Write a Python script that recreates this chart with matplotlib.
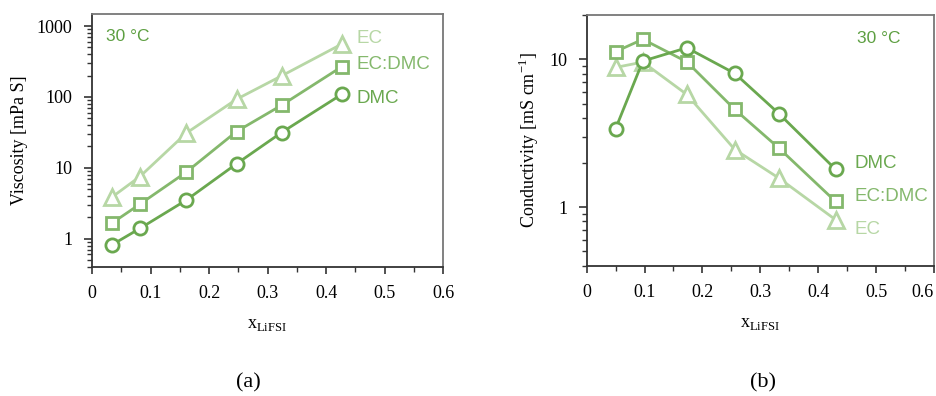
import numpy as np
import matplotlib.pyplot as plt
from matplotlib.ticker import FixedLocator, LogLocator, NullFormatter

# panel (a): viscosity vs x_LiFSI
x_visc = [0.034, 0.082, 0.161, 0.247, 0.324, 0.427]
visc_ec = [3.86, 7.55, 30.8, 92.7, 198, 557]
visc_ecdmc = [1.66, 3.08, 8.69, 32.5, 76.3, 267]
visc_dmc = [0.82, 1.40, 3.5, 11.4, 31.5, 109]

# panel (b): conductivity vs x_LiFSI
x_cond = [0.050, 0.097, 0.173, 0.256, 0.332, 0.430]
cond_ec = [8.83, 9.6, 5.79, 2.45, 1.57, 0.82]
cond_ecdmc = [11.3, 13.7, 9.64, 4.58, 2.51, 1.09]
cond_dmc = [3.40, 9.75, 12.0, 8.04, 4.30, 1.80]

x_ticks = [0, 0.1, 0.2, 0.3, 0.4, 0.5, 0.6]
x_tick_labels = ['0', '0.1', '0.2', '0.3', '0.4', '0.5', '0.6']

c_ec = '#b7d7a5'
c_ecdmc = '#84b86c'
c_dmc = '#6aa84f'
c_temp = '#5d9f41'

serif = 'Liberation Serif'
sans = 'Liberation Sans'

fig = plt.figure(figsize=(9.36, 3.96), dpi=100)
ax1 = fig.add_axes([0.0983, 0.3258, 0.375, 0.639])
ax2 = fig.add_axes([0.6268, 0.329, 0.371, 0.633])


def style_axis(ax, ylim, yticks, ylabels):
    ax.set_yscale('log')
    ax.set_xlim(0, 0.6)
    ax.set_ylim(*ylim)
    ax.xaxis.set_major_locator(FixedLocator(x_ticks))
    ax.xaxis.set_minor_locator(FixedLocator([0.05, 0.15, 0.25, 0.35, 0.45, 0.55]))
    ax.set_xticklabels(x_tick_labels, fontfamily=serif, fontsize=13)
    ax.yaxis.set_major_locator(FixedLocator(yticks))
    ax.set_yticklabels(ylabels, fontfamily=serif, fontsize=13)
    ax.yaxis.set_minor_locator(LogLocator(base=10, subs=np.arange(2, 10)))
    ax.yaxis.set_minor_formatter(NullFormatter())
    ax.tick_params(which='major', direction='out', length=5, width=1.2,
                   color='#333333', pad=8)
    ax.tick_params(which='minor', direction='out', length=3.5, width=1.0,
                   color='#333333')
    ax.tick_params(axis='y', which='major', length=6)
    for side in ['left', 'bottom']:
        ax.spines[side].set_color('#333333')
        ax.spines[side].set_linewidth(1.3)
    for side in ['top', 'right']:
        ax.spines[side].set_color('#777777')
        ax.spines[side].set_linewidth(1.3)
    ax.set_xlabel(r'x$_{\mathregular{LiFSI}}$', fontfamily=serif, fontsize=13,
                  labelpad=10)


def draw(ax, x, y, color, marker, ms):
    ax.plot(x, y, color=color, lw=2.0, marker=marker, ms=ms,
            mfc='white', mec=color, mew=2.0, clip_on=False, zorder=3)


# (a)
draw(ax1, x_visc, visc_ec, c_ec, '^', 11)
draw(ax1, x_visc, visc_ecdmc, c_ecdmc, 's', 8.5)
draw(ax1, x_visc, visc_dmc, c_dmc, 'o', 9.5)
style_axis(ax1, (0.40, 1480), [1, 10, 100, 1000], ['1', '10', '100', '1000'])
ax1.set_ylabel('Viscosity [mPa S]', fontfamily=serif, fontsize=13, labelpad=6)
ax1.text(0.04, 0.911, '30 °C', transform=ax1.transAxes, color=c_temp,
         fontfamily=sans, fontsize=12.5, va='center')
ax1.text(0.452, 670, 'EC', color=c_ec, fontfamily=sans, fontsize=13.5, va='center')
ax1.text(0.452, 282, 'EC:DMC', color=c_ecdmc, fontfamily=sans, fontsize=13.5, va='center')
ax1.text(0.452, 96, 'DMC', color=c_dmc, fontfamily=sans, fontsize=13.5, va='center')

# (b)
draw(ax2, x_cond, cond_ec, c_ec, '^', 11)
draw(ax2, x_cond, cond_ecdmc, c_ecdmc, 's', 8.5)
draw(ax2, x_cond, cond_dmc, c_dmc, 'o', 9.5)
style_axis(ax2, (0.40, 20), [1, 10], ['1', '10'])
ax2.get_xticklabels()[-1].set_ha('right')
ax2.set_ylabel(r'Conductivity [mS cm$^{\mathregular{-1}}$]', fontfamily=serif,
               fontsize=13, labelpad=6)
ax2.text(0.778, 0.908, '30 °C', transform=ax2.transAxes, color=c_temp,
         fontfamily=sans, fontsize=12.5, va='center')
ax2.text(0.462, 1.97, 'DMC', color=c_dmc, fontfamily=sans, fontsize=13.5, va='center')
ax2.text(0.462, 1.18, 'EC:DMC', color=c_ecdmc, fontfamily=sans, fontsize=13.5, va='center')
ax2.text(0.462, 0.70, 'EC', color=c_ec, fontfamily=sans, fontsize=13.5, va='center')

fig.text(248 / 936, 1 - 383 / 396, '(a)', fontfamily=serif, fontsize=16,
         ha='center', va='center')
fig.text(763 / 936, 1 - 383 / 396, '(b)', fontfamily=serif, fontsize=16,
         ha='center', va='center')

fig.savefig('out.png', dpi=100)
